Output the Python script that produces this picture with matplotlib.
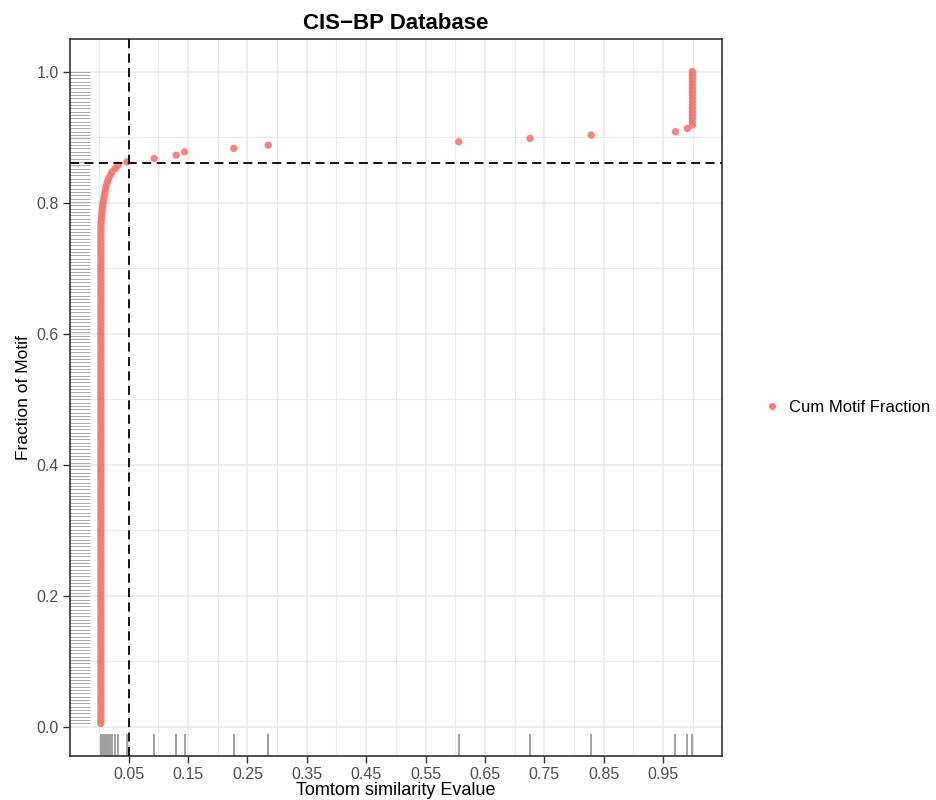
import numpy as np
import matplotlib
matplotlib.use('Agg')
import matplotlib.pyplot as plt
from matplotlib.lines import Line2D

plt.rcParams['font.family'] = ['Liberation Sans', 'DejaVu Sans']

# --- Data (Tomtom E-values of motifs, sorted) ---
n_near_zero      = 150          # motifs with E-value ~0 (vertical column)
near_zero_evalue = 0.003
curve_evalues = [0.0035, 0.004, 0.0045, 0.005, 0.0055, 0.006, 0.007, 0.008,
                 0.009, 0.01, 0.011, 0.0125, 0.014, 0.016, 0.019, 0.022,
                 0.027, 0.032, 0.047]
tail_evalues  = [0.093, 0.130, 0.144, 0.227, 0.285, 0.606, 0.726, 0.829,
                 0.971, 0.991]
n_at_one      = 17              # motifs with E-value ~1
cutoff_evalue   = 0.05
cutoff_fraction = 0.86

evalues = np.array([near_zero_evalue] * n_near_zero + curve_evalues
                   + tail_evalues + [0.9995] * n_at_one)
n_motif = len(evalues)
cum_frac = np.arange(1, n_motif + 1) / n_motif

x_ticks  = [0.05, 0.15, 0.25, 0.35, 0.45, 0.55, 0.65, 0.75, 0.85, 0.95]
x_minor  = [0.0, 0.1, 0.2, 0.3, 0.4, 0.5, 0.6, 0.7, 0.8, 0.9, 1.0]
y_ticks  = [0.0, 0.2, 0.4, 0.6, 0.8, 1.0]
y_minor  = [0.1, 0.3, 0.5, 0.7, 0.9]

# --- Layout ---
W, H = 937, 800
fig = plt.figure(figsize=(W / 100, H / 100), dpi=100, facecolor='white')
ax = fig.add_axes([70 / W, 1 - 756 / H, (722 - 70) / W, (756 - 39) / H])

# ggplot-style 5% expansion of the data range
def expanded(v, lo=None):
    lo = v.min() if lo is None else lo
    hi = v.max()
    pad = 0.05 * (hi - lo)
    return lo - pad, hi + pad

ax.set_xlim(*expanded(evalues, lo=0.001))
ax.set_ylim(*expanded(cum_frac))

# grid
for v in x_minor:
    ax.axvline(v, color='#EBEBEB', lw=0.8, zorder=0)
for v in x_ticks:
    ax.axvline(v, color='#EBEBEB', lw=1.2, zorder=0)
for v in y_minor:
    ax.axhline(v, color='#EBEBEB', lw=0.8, zorder=0)
for v in y_ticks:
    ax.axhline(v, color='#EBEBEB', lw=1.2, zorder=0)

# rugs
ax.vlines(evalues, 0, 0.03, transform=ax.get_xaxis_transform(),
          color='#A0A0A0', lw=1.4, zorder=1)
ax.hlines(cum_frac, 0, 0.03, transform=ax.get_yaxis_transform(),
          color='#A8A8A8', lw=0.7, zorder=1)

# points
ax.scatter(evalues, cum_frac, s=28, color='#F8766D', edgecolors='none',
           alpha=0.9, zorder=3)

# cutoff lines
ax.axvline(cutoff_evalue, color='black', lw=1.3, ls=(0, (5, 3)), zorder=4)
ax.axhline(cutoff_fraction, color='black', lw=1.3, ls=(0, (5, 3)), zorder=4)

# axes styling
ax.set_xticks(x_ticks)
ax.set_xticklabels([f'{v:.2f}' for v in x_ticks])
ax.set_yticks(y_ticks)
ax.set_yticklabels([f'{v:.1f}' for v in y_ticks])
ax.tick_params(colors='#333333', labelcolor='#4D4D4D', labelsize=11.5,
               length=5, width=1, pad=3)
for sp in ax.spines.values():
    sp.set_edgecolor('#333333')
    sp.set_linewidth(1.2)

ax.set_xlabel('Tomtom similarity Evalue', fontsize=13, color='black', labelpad=0)
ax.set_ylabel('Fraction of Motif', fontsize=12.5, color='black', labelpad=4)
ax.set_title('CIS\u2212BP Database', fontsize=16, fontweight='bold', pad=7)

# legend
handle = Line2D([], [], marker='o', ls='none', color='#F8766D', markersize=5,
                markeredgewidth=0)
fig.legend([handle], ['Cum Motif Fraction'], loc='center left',
           bbox_to_anchor=(0.806, 0.491), frameon=False, fontsize=12,
           handletextpad=0.4, handlelength=1.2, borderaxespad=0)

fig.savefig('out.png', dpi=100, facecolor='white')
plt.close(fig)
